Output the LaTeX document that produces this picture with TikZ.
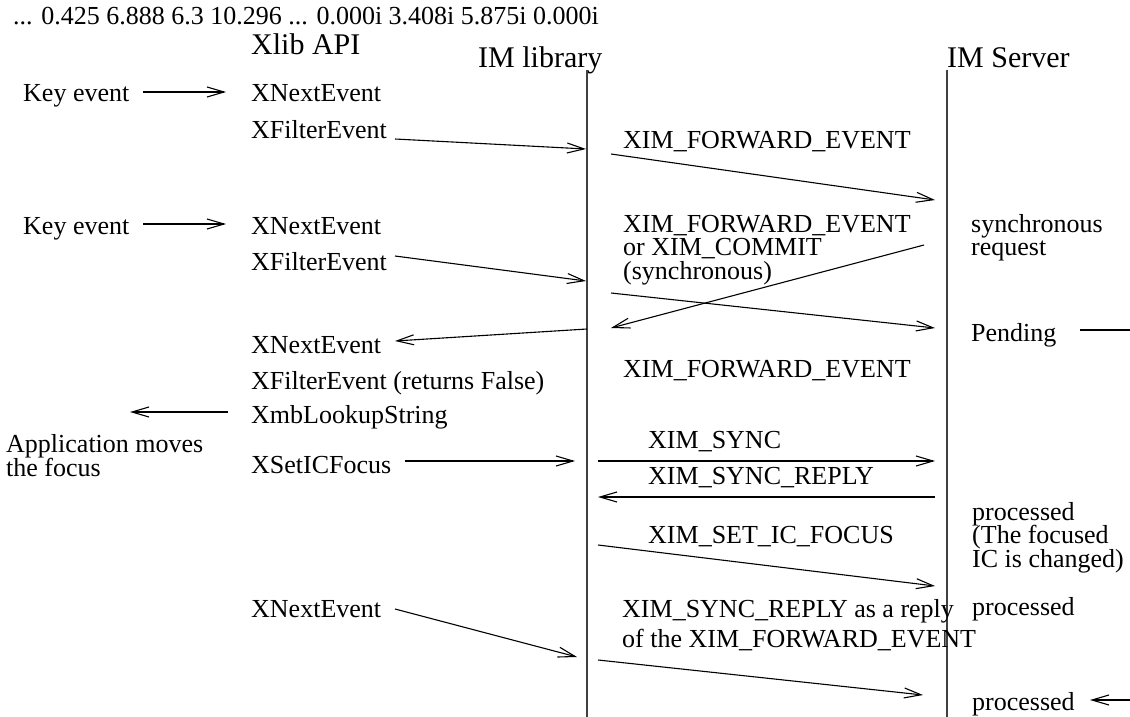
\documentclass[tikz,border=0pt]{standalone}
\usepackage{fontspec}
\setmainfont{Liberation Serif}
\usetikzlibrary{arrows.meta}
\tikzset{
  txt/.style={inner sep=0pt, anchor=base west, font=\fontsize{26}{23.5}\selectfont},
  hd/.style={inner sep=0pt, anchor=base west, font=\fontsize{30}{30}\selectfont},
  msg/.style={line width=1.1pt, -{Straight Barb[length=17pt,width=10pt,line width=1.1pt]}},
  plain/.style={line width=1.1pt},
  life/.style={line width=1.4pt, draw=black!75}
}
\begin{document}
\begin{tikzpicture}[x=1pt,y=-1pt]
\useasboundingbox (0,0) rectangle (1130,717);
% header
\node[txt] (hdr) at (13,25) {... 0.425 6.888 6.3 10.296 ... 0.000i 3.408i 5.875i 0.000i};
\node[hd] (xlib) at (251,55) {Xlib API};
\node[hd] (imlib) at (478,68) {IM library};
\node[hd] (imsrv) at (947,68) {IM Server};
% lifelines
\coordinate (libtop) at (587,70); \coordinate (libbot) at (587,717);
\coordinate (srvtop) at (947,70); \coordinate (srvbot) at (947,717);
\draw[life] (libtop) -- (libbot);
\draw[life] (srvtop) -- (srvbot);
% texts
\node[txt] (key1) at (23,102) {Key event};
\node[txt] (next1) at (251,102) {XNextEvent};
\node[txt] (filt1) at (251,138) {XFilterEvent};
\node[txt] (fwd1) at (623,148) {XIM\_FORWARD\_EVENT};
\node[txt] (key2) at (23,234) {Key event};
\node[txt] (next2) at (251,234) {XNextEvent};
\node[txt] (filt2) at (251,270) {XFilterEvent};
\node[txt] (fwd2a) at (623,232) {XIM\_FORWARD\_EVENT};
\node[txt] (fwd2b) at (623,255) {or XIM\_COMMIT};
\node[txt] (fwd2c) at (623,279) {(synchronous)};
\node[txt] (sync1) at (971,232) {synchronous};
\node[txt] (sync2) at (971,255) {request};
\node[txt] (pend) at (971,341) {Pending};
\node[txt] (next3) at (251,353) {XNextEvent};
\node[txt] (fwd3) at (623,377) {XIM\_FORWARD\_EVENT};
\node[txt] (filt3) at (251,389) {XFilterEvent (returns False)};
\node[txt] (lookup) at (251,423) {XmbLookupString};
\node[txt] (app1) at (6,452) {Application moves};
\node[txt] (app2) at (6,476) {the focus};
\node[txt] (setic) at (251,473) {XSetICFocus};
\node[txt] (ximsync) at (648,448) {XIM\_SYNC};
\node[txt] (ximrep) at (648,484) {XIM\_SYNC\_REPLY};
\node[txt] (proc1a) at (972,520) {processed};
\node[txt] (proc1b) at (972,543) {(The focused};
\node[txt] (proc1c) at (972,567) {IC is changed)};
\node[txt] (setfoc) at (648,543) {XIM\_SET\_IC\_FOCUS};
\node[txt] (next4) at (251,617) {XNextEvent};
\node[txt] (rep4a) at (622,617) {XIM\_SYNC\_REPLY as a reply};
\node[txt] (rep4b) at (622,647) {of the XIM\_FORWARD\_EVENT};
\node[txt] (proc2) at (972,615) {processed};
\node[txt] (proc3) at (972,710) {processed};
% arrow end points
\coordinate (a1s) at (143,92);  \coordinate (a1e) at (226,92);
\coordinate (a2s) at (395,139); \coordinate (a2e) at (586,149);
\coordinate (a3s) at (611,154); \coordinate (a3e) at (935,200);
\coordinate (a4s) at (143,224); \coordinate (a4e) at (226,224);
\coordinate (a5s) at (395,256); \coordinate (a5e) at (586,281);
\coordinate (a6s) at (924,245); \coordinate (a6e) at (611,328);
\coordinate (a7s) at (611,293); \coordinate (a7e) at (935,328);
\coordinate (l8s) at (1080,330); \coordinate (l8e) at (1130,330);
\coordinate (a9s) at (587,329); \coordinate (a9e) at (395,341);
\coordinate (a10s) at (228,412); \coordinate (a10e) at (130,412);
\coordinate (a11s) at (405,461); \coordinate (a11e) at (575,461);
\coordinate (a12s) at (598,461); \coordinate (a12e) at (935,461);
\coordinate (a13s) at (935,497); \coordinate (a13e) at (598,497);
\coordinate (a14s) at (598,545); \coordinate (a14e) at (935,586);
\coordinate (a15s) at (395,609); \coordinate (a15e) at (577,657);
\coordinate (a16s) at (598,660); \coordinate (a16e) at (923,695);
\coordinate (a17s) at (1130,700); \coordinate (a17e) at (1090,700);
\draw[msg] (a1s) -- (a1e);
\draw[msg] (a2s) -- (a2e);
\draw[msg] (a3s) -- (a3e);
\draw[msg] (a4s) -- (a4e);
\draw[msg] (a5s) -- (a5e);
\draw[msg] (a6s) -- (a6e);
\draw[msg] (a7s) -- (a7e);
\draw[plain] (l8s) -- (l8e);
\draw[msg] (a9s) -- (a9e);
\draw[msg] (a10s) -- (a10e);
\draw[msg] (a11s) -- (a11e);
\draw[msg] (a12s) -- (a12e);
\draw[msg] (a13s) -- (a13e);
\draw[msg] (a14s) -- (a14e);
\draw[msg] (a15s) -- (a15e);
\draw[msg] (a16s) -- (a16e);
\draw[msg] (a17s) -- (a17e);
\end{tikzpicture}
\end{document}
